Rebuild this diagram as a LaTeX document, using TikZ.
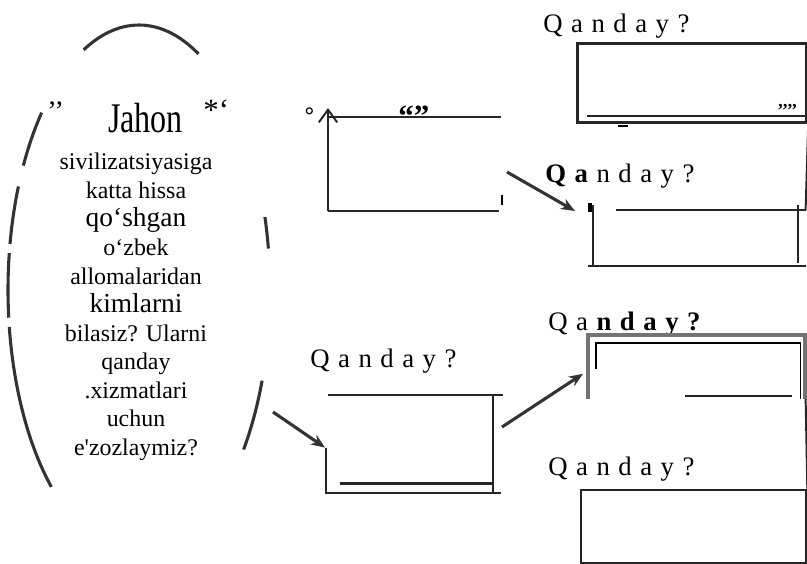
\documentclass[tikz,border=0pt]{standalone}
\usepackage{fontspec}
\setmainfont{Liberation Serif}
\setsansfont{Liberation Sans}
\newfontfamily\qfont[LetterSpace=32]{Liberation Serif}
\newfontfamily\rawfont[Ligatures=ResetAll]{Liberation Serif}
\usetikzlibrary{calc}
\usetikzlibrary{arrows.meta}

\tikzset{
  edge/.style={line width=1.4pt, black!85},
  ring/.style={line width=2.2pt, black!80},
  arr/.style={-{Stealth[length=10pt,width=8pt]}, line width=2.2pt, black!80},
  lbl/.style={font=\qfont\fontsize{19}{19}\selectfont, anchor=base west, inner sep=0pt},
  ghost/.style={inner sep=0pt, anchor=north west},
  bx/.style={draw, black!85, line width=1.6pt, inner sep=0pt, anchor=north west},
  mk/.style={inner sep=0pt, anchor=north west},
}

\begin{document}
\begin{tikzpicture}[x=0.025cm, y=-0.025cm]
    \useasboundingbox (0,0) rectangle (807,564);
    % oval round the question
    \draw[ring] plot[domain=63:115, samples=30] ({139+131*cos(\x)},{290-265*sin(\x)});
    \draw[ring] plot[domain=138:152, samples=10] ({139+131*cos(\x)},{290-265*sin(\x)});
    \draw[ring] plot[domain=157:170, samples=10] ({139+131*cos(\x)},{290-265*sin(\x)});
    \draw[ring] plot[domain=172:186, samples=10] ({139+131*cos(\x)},{290-265*sin(\x)});
    \draw[ring] plot[domain=188:228, samples=25] ({139+131*cos(\x)},{290-265*sin(\x)});
    \draw[ring] plot[domain=9:16, samples=5] ({139+131*cos(\x)},{290-265*sin(\x)});
    \draw[ring] plot[domain=-37:-20, samples=10] ({139+131*cos(\x)},{290-265*sin(\x)});
    \node[mk, font=\fontsize{20}{20}\selectfont] (qL) at (47,102) {’’};
    \node[font=\fontsize{30}{30}\selectfont, xscale=0.76, anchor=base, inner sep=0pt] (jahon) at (145.5,133) {Jahon};
    \node[mk, font=\fontsize{22}{22}\selectfont] (qR) at (203,100) {*‘};
    \node[font=\fontsize{17}{20.3}\selectfont, align=center, inner sep=0pt, anchor=north] (txt) at (136,153)
        {sivilizatsiyasiga\\katta hissa\\{\fontsize{19.5}{20.3}\selectfont qo‘shgan}\\o‘zbek\\allomalaridan\\
         {\fontsize{19.5}{20.3}\selectfont kimlarni}\\bilasiz? Ularni\\qanday\\.xizmatlari\\uchun\\e{\rawfont'}zozlaymiz?};

    % middle column
    \node[ghost, minimum width=4.3cm, minimum height=2.325cm] (mid) at (328,117) {};
    \draw[edge] (mid.north east) -- (mid.north west);
    \draw[edge, -{Straight Barb[length=9pt,width=13pt]}] (mid.south west) -- ($(mid.north west)+(0,-9)$);
    \draw[edge] (mid.south west) -- ($(mid.south east)+(-2,0)$);
    \draw[line width=1.5pt] ($(mid.south east)+(1,-6)$) -- ($(mid.south east)+(1,-16)$);
    \node[mk, font=\sffamily\fontsize{18}{18}\selectfont] (deg) at (304,108) {°};
    \node[mk, font=\bfseries\fontsize{22}{22}\selectfont] (qq) at (398,106) {“”};

    \node[lbl] (l3) at (310,367) {Qanday?};
    \node[ghost, minimum width=4.1cm, minimum height=2.425cm] (low) at (328,395) {};
    \draw[edge] (low.north west) -- ($(low.north east)+(10,0)$);
    \draw[edge] (low.north east) -- (low.south east);
    \draw[edge] ($(low.south west)+(-2,-45)$) -- ($(low.south west)+(-2,0)$) -- ($(low.south east)+(8,0)$);
    \draw[line width=2pt, black!85] ($(low.south west)+(12,-9)$) -- ($(low.south east)+(0,-9)$);

    % right column
    \node[lbl] (l1) at (543,33) {Qanday?};
    \node[bx, line width=2.2pt, minimum width=5.725cm, minimum height=1.975cm] (b1) at (576,42) {};
    \draw[line width=1.8pt, black!85] ($(b1.south west)+(11,-8)$) -- ($(b1.south east)+(0,-8)$);
    \node[mk, font=\bfseries\fontsize{13}{13}\selectfont] (q4) at (777,104) {’’’’};
    \draw[line width=1.8pt] (618,126) -- (628,126);

    \node[lbl] (l2) at (545,182) {\textbf{Qa}nday?};
    \node[ghost, minimum width=5.3cm, minimum height=1.375cm] (b2) at (593,210) {};
    \draw[edge] (b1.south east) -- (b2.north east);
    \draw[edge] ($(b2.north west)+(23,0)$) -- (b2.north east);
    \draw[edge] ($(b2.north west)+(0,-5)$) -- (b2.south west);
    \draw[edge] ($(b2.north east)+(-8,-5)$) -- ($(b2.south east)+(-8,-3)$);
    \draw[edge] ($(b2.south west)+(-5,0)$) -- (b2.south east);
    \draw[line width=3pt] ($(b2.north west)+(-3,-7)$) -- ($(b2.north west)+(-3,2)$);

    \node[lbl] (l4) at (548,330) {Qa\textbf{nday?}};
    \node[ghost, minimum width=5.425cm, minimum height=1.575cm] (b3) at (588,335) {};
    \draw[line width=3.5pt, black!55] (b3.south west) -- (b3.north west) -- (b3.north east) -- (b3.south east);
    \draw[line width=0.8pt] ($(b3.south west)+(8,-30)$) -- ($(b3.north west)+(8,8)$) -- ($(b3.north east)+(-5,8)$) -- ($(b3.south east)+(-5,0)$);
    \draw[edge] ($(b3.south west)+(97,-3)$) -- ($(b3.south east)+(-14,-3)$);

    \node[lbl] (l5) at (548,475) {Qanday?};
    \node[bx, minimum width=5.625cm, minimum height=1.825cm] (b4) at (580,489) {};
    \draw[edge] (b3.south east) -- (b4.north east);

    % arrows
    \coordinate (a1) at (507,172);
    \coordinate (a2) at (273,412);
    \coordinate (a3) at (502,427);
    \draw[arr] (a1) -- ($(b2.north west)+(-18,1)$);
    \draw[arr] (a2) -- ($(low.south west)+(-3,-45)$);
    \draw[arr] (a3) -- ($(b3.west)+(-5,7)$);
\end{tikzpicture}
\end{document}
